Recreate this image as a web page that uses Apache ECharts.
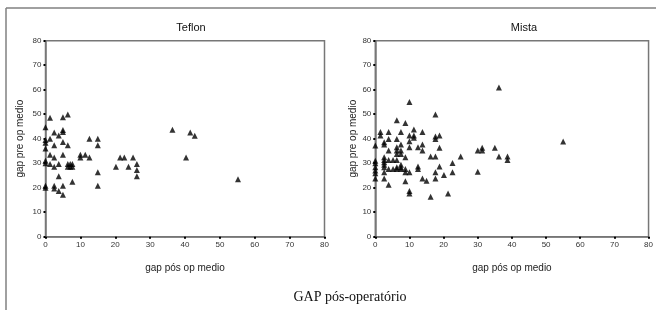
<!DOCTYPE html>
<html>
<head>
<meta charset="utf-8">
<script src="https://cdn.jsdelivr.net/npm/echarts@6/dist/echarts.min.js"></script>
<style>
html,body{margin:0;padding:0;background:#fff;}
#main{width:656px;height:310px;}
</style>
</head>
<body>
<div id="main"></div>
<script>
// gap pos op medio (x), gap pre op medio (y)
var teflon = [
  [0,44.7],[0,39.5],[0,38.3],[0,36],[0,31],[0,30],[0,20.8],[0,20],
  [1.3,48.6],[1.3,40],[1.3,33.5],[1.3,29.7],
  [2.5,42.5],[2.5,37.3],[2.5,32.3],[2.5,28.6],[2.5,20.8],[2.5,19.7],
  [3.8,41.3],[3.8,29.7],[3.8,24.7],[3.8,18.7],
  [5,48.8],[5,43.6],[5,42.7],[5,38.7],[5,33.5],[5,20.8],[5,17.1],
  [6.4,49.9],[6.4,37.3],[6.4,29.7],[6.4,28.6],
  [7.1,29.7],[7.1,28.6],[7.7,29.7],[7.7,28.6],[7.7,22.4],
  [10,33.5],[10,32.3],[11.4,33.5],[12.6,40],[12.6,32.3],
  [15,40],[15,37.3],[15,26.3],[15,20.8],
  [20.2,28.6],[21.4,32.3],[22.6,32.3],[23.8,28.6],[25.1,32.3],
  [26.2,29.7],[26.2,27.2],[26.2,24.7],
  [36.4,43.7],[40.3,32.3],[41.5,42.5],[42.8,41.2],[55.2,23.5]
];
var mista = [
  [0,37.2],[0,31],[0,30],[0,28.3],[0,27],[0,25.9],[0,23.8],
  [1.5,42.7],[1.5,41.3],
  [2.6,38.6],[2.6,37.6],[2.6,32.4],[2.6,31.3],[2.6,30.4],[2.6,29.4],[2.6,28.3],[2.6,26.3],[2.6,23.8],
  [3.9,42.7],[3.9,39.9],[3.9,35.2],[3.9,31.3],[3.9,27.6],[3.9,21.2],
  [5.2,31.3],[5.2,27.6],
  [6.3,47.5],[6.3,39.9],[6.3,36.5],[6.3,35.2],[6.3,33.8],[6.3,31.3],[6.3,28.3],[6.3,27.6],
  [7.5,42.7],[7.5,37.6],[7.5,35.2],[7.5,33.8],[7.5,29.4],[7.5,28.3],[7.5,27.6],
  [8.8,46.4],[8.8,32.4],[8.8,27.6],[8.8,26.3],[8.8,22.6],
  [10,55],[10,41.3],[10,39],[10,36.5],[10,26.3],[10,18.7],[10,17.6],
  [11.3,43.8],[11.3,41.3],[11.3,40.4],
  [12.5,36.5],[12.5,28.7],[12.5,27.6],
  [13.8,42.7],[13.8,37.6],[13.8,35.2],[13.8,23.8],
  [15,22.8],[16.2,32.7],[16.2,16.3],
  [17.6,49.9],[17.6,40.9],[17.6,39.9],[17.6,32.7],[17.6,26.3],[17.6,23.8],
  [18.8,41.3],[18.8,36.3],[18.8,28.7],
  [20.1,25.2],[21.3,17.6],[22.6,30.1],[22.6,26.3],[25,32.7],
  [30,35.2],[30,26.5],[31.3,36.3],[31.3,35.2],[35,36.3],
  [36.2,60.9],[36.2,32.7],[38.7,32.7],[38.7,31.3],[55,38.9]
];
var titles = ["Teflon", "Mista"];
var xName = "gap pós op medio";
var yName = "gap pre op medio";
var caption = "GAP pós-operatório";

var myChart = echarts.init(document.getElementById("main"));

function xAx(i){
    return {
        gridIndex: i, type: "value", min: 0, max: 80, interval: 10,
        name: xName, nameLocation: "middle", nameGap: 27,
        nameTextStyle: {fontFamily: "Arial", fontSize: 10, color: "#222"},
        axisLine: {lineStyle: {color: "#777", width: 1.5}},
        axisTick: {length: 2, lineStyle: {color: "#000", width: 2}},
        axisLabel: {fontFamily: "Arial", fontSize: 8, color: "#333", margin: 4},
        splitLine: {show: false}
    };
}
function yAx(i, gap){
    return {
        gridIndex: i, type: "value", min: 0, max: 80, interval: 10,
        name: yName, nameLocation: "middle", nameGap: gap,
        nameTextStyle: {fontFamily: "Arial", fontSize: 10, color: "#222"},
        axisLine: {show: true, lineStyle: {color: "#777", width: 1.5}},
        axisTick: {show: true, length: 2, lineStyle: {color: "#000", width: 2}},
        axisLabel: {fontFamily: "Arial", fontSize: 8, color: "#333", margin: 4},
        splitLine: {show: false}
    };
}

var option = {
    animation: false,
    title: [
        {text: titles[0], left: 186, top: 17, textAlign: "center",
         textStyle: {fontFamily: "Arial", fontSize: 11, fontWeight: "normal", color: "#111"}},
        {text: titles[1], left: 519, top: 17, textAlign: "center",
         textStyle: {fontFamily: "Arial", fontSize: 11, fontWeight: "normal", color: "#111"}}
    ],
    grid: [
        {left: 45.5, top: 40.7, width: 279, height: 196, show: true, borderColor: "#777", borderWidth: 1.5},
        {left: 375.3, top: 40.7, width: 275.7, height: 196, show: true, borderColor: "#777", borderWidth: 1.5}
    ],
    xAxis: [xAx(0), xAx(1)],
    yAxis: [yAx(0, 20), yAx(1, 14)],
    series: [
        {type: "scatter", xAxisIndex: 0, yAxisIndex: 0, data: teflon,
         symbol: "triangle", symbolSize: 6, itemStyle: {color: "#000"}},
        {type: "scatter", xAxisIndex: 1, yAxisIndex: 1, data: mista,
         symbol: "triangle", symbolSize: 6, itemStyle: {color: "#000"}}
    ],
    graphic: [
        {type: "line", shape: {x1: 6, y1: 8, x2: 656, y2: 8}, style: {stroke: "#808080", lineWidth: 1.5}},
        {type: "line", shape: {x1: 6, y1: 8, x2: 6, y2: 310}, style: {stroke: "#808080", lineWidth: 1.5}},
        {type: "text", x: 350, y: 297, style: {text: caption, fontFamily: "Liberation Serif", fontSize: 14,
         fill: "#111", align: "center", verticalAlign: "middle"}}
    ]
};
myChart.setOption(option);
</script>
</body>
</html>
